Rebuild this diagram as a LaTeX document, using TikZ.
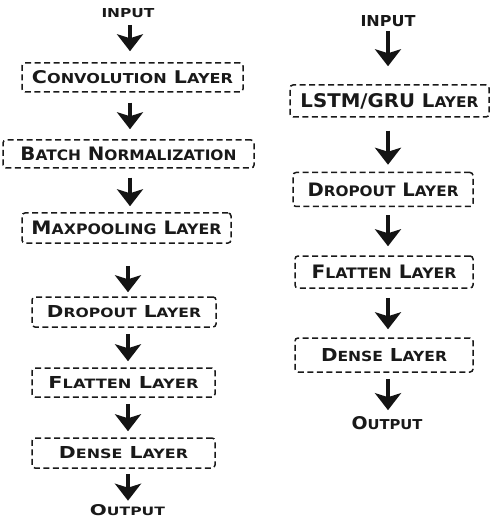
\documentclass[tikz,border=0pt]{standalone}
\usepackage{fontspec}
\setmainfont{DejaVu Sans}
\usetikzlibrary{arrows.meta}
\newcommand\scw[2]{{\fontsize{10}{10}\selectfont #1}{\fontsize{7.8}{7.8}\selectfont #2}}
\newcommand\fitt[3]{\resizebox{#1pt}{#2pt}{\bfseries #3}}
\begin{document}
\begin{tikzpicture}[x=1pt,y=-1pt,
  box/.style={draw=black!90, line width=1.5pt, dash pattern=on 6pt off 3.5pt,
    rounded corners=3pt, inner sep=0pt, text=black!90},
  lbl/.style={inner sep=0pt, text=black!90},
  arr/.style={draw=black!92, line width=4.4pt, -{Stealth[width=26pt,length=17pt,inset=4pt]}}]
\useasboundingbox (0,0) rectangle (490,518);
% axes for vertical arrows
\coordinate (ax1) at (130,0);
\coordinate (ax2) at (128,0);
\coordinate (ax3) at (388,0);
% left column
\node[lbl] (in1) at (128,13) {\fitt{53}{9}{\scw{}{INPUT}}};
\node[box, minimum width=221pt, minimum height=29pt] (conv) at (132.5,77.5)
  {\fitt{201}{13}{\scw{C}{ONVOLUTION} \scw{L}{AYER}}};
\node[box, minimum width=251pt, minimum height=28pt] (bn) at (128.5,154)
  {\fitt{216}{13.5}{\scw{B}{ATCH} \scw{N}{ORMALIZATION}}};
\node[box, minimum width=209pt, minimum height=30pt] (maxp) at (126.5,228)
  {\fitt{190}{13.5}{\scw{M}{AXPOOLING} \scw{L}{AYER}}};
\node[box, minimum width=184pt, minimum height=30pt] (drop1) at (124,312)
  {\fitt{154}{12}{\scw{D}{ROPOUT} \scw{L}{AYER}}};
\node[box, minimum width=183pt, minimum height=29pt] (flat1) at (123.5,382.5)
  {\fitt{150}{12}{\scw{F}{LATTEN} \scw{L}{AYER}}};
\node[box, minimum width=183pt, minimum height=30pt] (dense1) at (123.5,453)
  {\fitt{129}{12}{\scw{D}{ENSE} \scw{L}{AYER}}};
\node[lbl] (out1) at (127.5,510.5) {\fitt{75}{11}{\scw{O}{UTPUT}}};
\draw[arr, shorten <=7pt, shorten >=11pt] (in1.south -| ax1) -- (conv.north -| ax1);
\draw[arr, shorten <=10pt, shorten >=10pt] (conv.south -| ax1) -- (bn.north -| ax1);
\draw[arr, shorten <=9pt, shorten >=6pt] (bn.south -| ax1) -- (maxp.north -| ax1);
\draw[arr, shorten <=22pt, shorten >=4pt] (maxp.south -| ax2) -- (drop1.north -| ax2);
\draw[arr, shorten <=6pt, shorten >=6pt] (drop1.south -| ax2) -- (flat1.north -| ax2);
\draw[arr, shorten <=6pt, shorten >=6pt] (flat1.south -| ax2) -- (dense1.north -| ax2);
\draw[arr, shorten <=5pt, shorten >=4pt] (dense1.south -| ax2) -- (out1.north -| ax2);
% right column
\node[lbl] (in2) at (388,21) {\fitt{55}{11}{\scw{}{INPUT}}};
\node[box, minimum width=199pt, minimum height=32pt] (lstm) at (389.5,101)
  {\fitt{178}{14}{\scw{LSTM/GRU}{} \scw{L}{AYER}}};
\node[box, minimum width=180pt, minimum height=34pt] (drop2) at (383,189.5)
  {\fitt{151}{13.5}{\scw{D}{ROPOUT} \scw{L}{AYER}}};
\node[box, minimum width=178pt, minimum height=32pt] (flat2) at (384,272)
  {\fitt{145}{13.5}{\scw{F}{LATTEN} \scw{L}{AYER}}};
\node[box, minimum width=178pt, minimum height=34pt] (dense2) at (384,355)
  {\fitt{126}{13}{\scw{D}{ENSE} \scw{L}{AYER}}};
\node[lbl] (out2) at (387,423) {\fitt{71}{13}{\scw{O}{UTPUT}}};
\draw[arr, shorten <=4pt, shorten >=18pt] (in2.south -| ax3) -- (lstm.north -| ax3);
\draw[arr, shorten <=13pt, shorten >=7pt] (lstm.south -| ax3) -- (drop2.north -| ax3);
\draw[arr, shorten <=8pt, shorten >=9pt] (drop2.south -| ax3) -- (flat2.north -| ax3);
\draw[arr, shorten <=9pt, shorten >=8pt] (flat2.south -| ax3) -- (dense2.north -| ax3);
\draw[arr, shorten <=6pt, shorten >=6pt] (dense2.south -| ax3) -- (out2.north -| ax3);
\end{tikzpicture}
\end{document}
